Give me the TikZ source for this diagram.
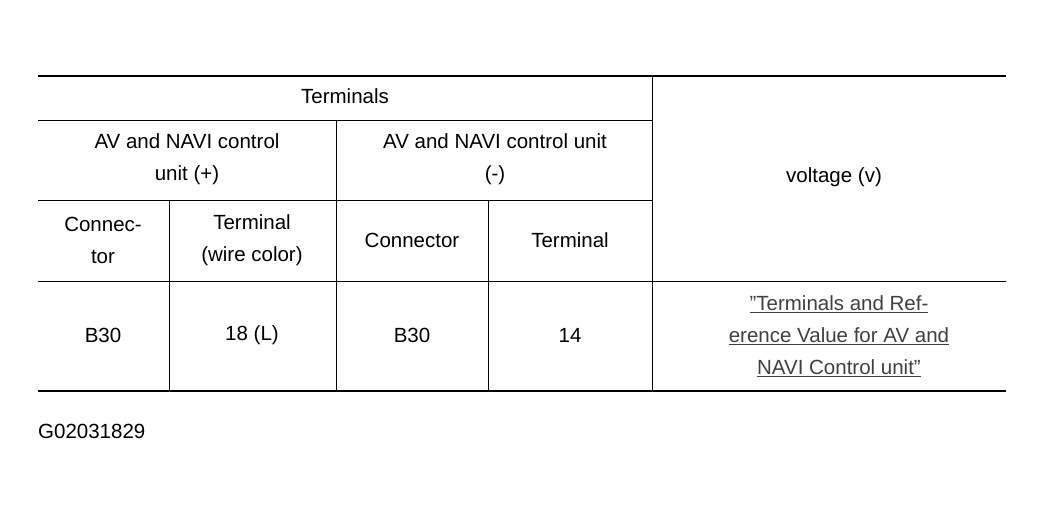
\documentclass[tikz,border=0pt]{standalone}
\usepackage{fontspec}
\setmainfont{Liberation Sans}
\begin{document}
\begin{tikzpicture}[x=1pt,y=-1pt,
  txt/.style={align=center,font=\fontsize{20.5}{32}\selectfont,inner sep=0pt},
  rule/.style={line width=1.6pt},
  thin/.style={line width=0.8pt}]
\useasboundingbox (0,0) rectangle (1044,512);
\draw[rule] (38,76) -- (1006,76);
\draw[rule] (38,391) -- (1006,391);
\draw[thin] (38,120) -- (652,120);
\draw[thin] (38,200) -- (652,200);
\draw[thin] (38,281) -- (1006,281);
\draw[thin] (652,76) -- (652,391);
\draw[thin] (336,120) -- (336,391);
\draw[thin] (169,200) -- (169,391);
\draw[thin] (488,200) -- (488,391);
\node[txt] (t) at (345,96) {Terminals};
\node[txt] (p) at (187,159) {AV and NAVI control\\unit (+)};
\node[txt] (m) at (495,159) {AV and NAVI control unit\\(-)};
\node[txt] (v) at (834,177) {voltage (v)};
\node[txt] (c1) at (103,240) {Connec-\\tor};
\node[txt] (t1) at (252,240) {Terminal\\(wire color)};
\node[txt] (c2) at (412,240) {Connector};
\node[txt] (t2) at (570,240) {Terminal};
\node[txt] (r1) at (103,335) {B30};
\node[txt] (r2) at (252,335) {18 (L)};
\node[txt] (r3) at (412,335) {B30};
\node[txt] (r4) at (570,335) {14};
\node[txt,text=black!75] (lk) at (839,336) {\underline{"Terminals and Ref-}\\\underline{erence Value for AV and}\\\underline{NAVI Control unit"}};
\node[txt,anchor=west] (id) at (38,431) {G02031829};
\end{tikzpicture}
\end{document}
